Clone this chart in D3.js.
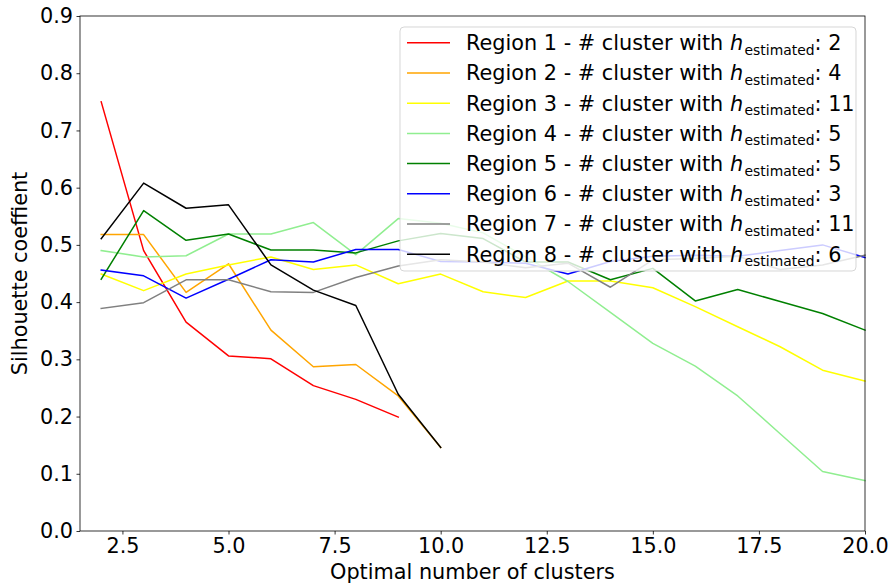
<!DOCTYPE html>
<html>
<head>
<meta charset="utf-8">
<script src="https://d3js.org/d3.v7.min.js"></script>
<style>
  body { margin: 0; background: #fff; }
  text { font-family: "DejaVu Sans", sans-serif; fill: #000; }
  .line { fill: none; stroke-width: 1.5; stroke-linejoin: round; stroke-linecap: square; }
</style>
</head>
<body>
<script>
// silhouette coefficient per number of clusters, k starts at 2
var regions = ["Region 1", "Region 2", "Region 3", "Region 4", "Region 5", "Region 6", "Region 7", "Region 8"];
var hEstimated = [2, 4, 11, 5, 5, 3, 11, 6];
var colors = ["red", "orange", "yellow", "lightgreen", "green", "blue", "gray", "black"];

var region1 = [0.750, 0.490, 0.365, 0.306, 0.301, 0.254, 0.230, 0.199];
var region2 = [0.518, 0.518, 0.417, 0.467, 0.351, 0.287, 0.291, 0.236, 0.146];
var region3 = [0.449, 0.420, 0.449, 0.465, 0.479, 0.457, 0.465, 0.432, 0.449, 0.418,
               0.408, 0.437, 0.437, 0.425, 0.392, 0.357, 0.322, 0.281, 0.262];
var region4 = [0.490, 0.479, 0.481, 0.519, 0.519, 0.539, 0.483, 0.546, 0.538, 0.521,
               0.479, 0.436, 0.382, 0.328, 0.288, 0.236, 0.170, 0.104, 0.088];
var region5 = [0.440, 0.560, 0.508, 0.519, 0.491, 0.491, 0.486, 0.507, 0.520, 0.511,
               0.470, 0.470, 0.439, 0.459, 0.402, 0.422, 0.401, 0.380, 0.351];
var region6 = [0.456, 0.446, 0.407, 0.440, 0.474, 0.470, 0.492, 0.492, 0.471, 0.470,
               0.468, 0.449, 0.471, 0.480, 0.482, 0.480, 0.490, 0.500, 0.478];
var region7 = [0.389, 0.399, 0.439, 0.439, 0.418, 0.417, 0.443, 0.463, 0.474, 0.470,
               0.460, 0.468, 0.426, 0.474, 0.476, 0.480, 0.457, 0.465, 0.482];
var region8 = [0.511, 0.608, 0.564, 0.570, 0.465, 0.421, 0.394, 0.239, 0.146];

var xTicks = [2.5, 5.0, 7.5, 10.0, 12.5, 15.0, 17.5, 20.0];
var yTicks = [0.0, 0.1, 0.2, 0.3, 0.4, 0.5, 0.6, 0.7, 0.8, 0.9];

var allSeries = [region1, region2, region3, region4, region5, region6, region7, region8];

var margin = {top: 16, right: 27, bottom: 57, left: 80},
    width = 892 - margin.left - margin.right,
    height = 588 - margin.top - margin.bottom;

var svg = d3.select("body").append("svg")
    .attr("width", 892)
    .attr("height", 588);

var g = svg.append("g")
    .attr("transform", "translate(" + margin.left + "," + margin.top + ")");

var x = d3.scaleLinear().domain([1.5, 20]).range([0, width]),
    y = d3.scaleLinear().domain([0, 0.9]).range([height, 0]);

var line = d3.line()
    .x(function(d, i) { return x(i + 2); })
    .y(function(d) { return y(d); });

// the lines
allSeries.forEach(function(s, i) {
  g.append("path")
      .datum(s)
      .attr("class", "line")
      .attr("stroke", colors[i])
      .attr("d", line);
});

// axes, matplotlib look
var xAxis = g.append("g")
    .attr("transform", "translate(0," + height + ")")
    .call(d3.axisBottom(x).tickValues(xTicks).tickFormat(d3.format(".1f"))
      .tickSize(3.5).tickPadding(3.5));
var yAxis = g.append("g")
    .call(d3.axisLeft(y).tickValues(yTicks).tickFormat(d3.format(".1f"))
      .tickSize(3.5).tickPadding(3.5));

[xAxis, yAxis].forEach(function(a) {
  a.select(".domain").remove();
  a.selectAll("line").attr("stroke", "#000").attr("stroke-width", 0.8);
  a.selectAll("text").style("font-size", "20.8px").attr("fill", "#000");
});

// frame
g.append("rect")
    .attr("width", width)
    .attr("height", height)
    .attr("fill", "none")
    .attr("stroke", "#000")
    .attr("stroke-width", 0.8);

// axis labels
svg.append("text")
    .attr("x", margin.left + width / 2)
    .attr("y", 579)
    .attr("text-anchor", "middle")
    .style("font-size", "20.8px")
    .text("Optimal number of clusters");

svg.append("text")
    .attr("transform", "translate(27," + (margin.top + height / 2) + ") rotate(-90)")
    .attr("text-anchor", "middle")
    .style("font-size", "20.8px")
    .text("Silhouette coeffient");

// legend
var legend = svg.append("g").attr("transform", "translate(400,27)");
legend.append("rect")
    .attr("width", 456)
    .attr("height", 244)
    .attr("rx", 4)
    .attr("fill", "#fff")
    .attr("fill-opacity", 0.8)
    .attr("stroke", "#ccc")
    .attr("stroke-opacity", 0.8);

regions.forEach(function(r, i) {
  var row = legend.append("g").attr("transform", "translate(0," + (15.8 + i * 30.2) + ")");
  row.append("line")
      .attr("x1", 7).attr("x2", 50)
      .attr("stroke", colors[i])
      .attr("stroke-width", 1.5);
  var t = row.append("text")
      .attr("x", 66)
      .attr("y", 7.4)
      .style("font-size", "20.8px")
      .style("white-space", "pre");
  t.append("tspan").text(r + " - # cluster with ");
  t.append("tspan").style("font-style", "italic").text("h");
  t.append("tspan").attr("dx", 1.5).attr("dy", 4.5).style("font-size", "13.9px").text("estimated");
  t.append("tspan").attr("dy", -4.5).text(": " + hEstimated[i]);
});
</script>
</body>
</html>
